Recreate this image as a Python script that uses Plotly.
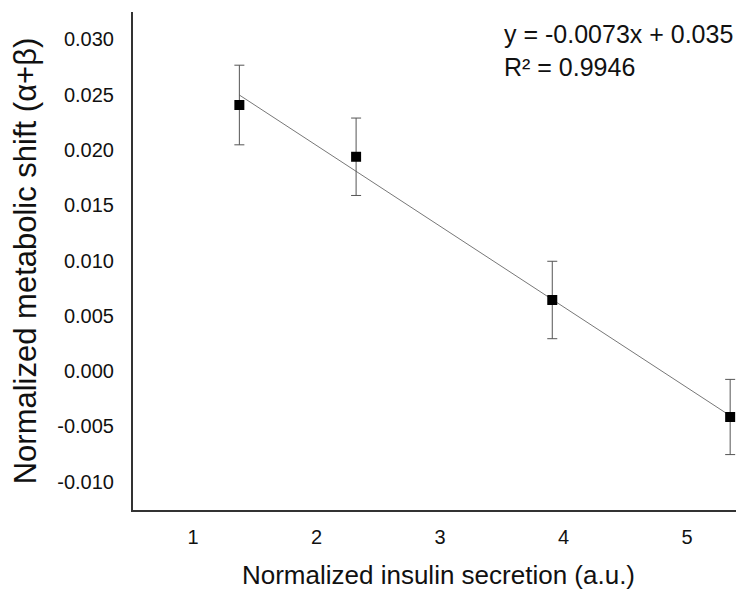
import numpy as np
import plotly.graph_objects as go

# valores
insulin = [1.375, 2.32, 3.908, 5.348]
shift = [0.02406, 0.01938, 0.00643, -0.00415]
shift_err = [0.0036, 0.0035, 0.0035, 0.0034]

slope = -0.0073
intercept = 0.035
r2 = 0.9946

x_ticks = [1, 2, 3, 4, 5]
y_ticks = [-0.010, -0.005, 0.000, 0.005, 0.010, 0.015, 0.020, 0.025, 0.030]
y_ticktext = [f"{v:.3f}" for v in y_ticks]

font = "Liberation Sans, Arial, sans-serif"

fig = go.Figure()

# recta de tendencia
xl = np.array([min(insulin), max(insulin)])
fig.add_trace(go.Scatter(
    x=xl, y=slope * xl + intercept, mode="lines",
    line=dict(color="#777777", width=1), hoverinfo="skip", showlegend=False
))

# puntos con barras de error
fig.add_trace(go.Scatter(
    x=insulin, y=shift, mode="markers",
    marker=dict(symbol="square", size=10, color="black"),
    error_y=dict(type="data", array=shift_err, visible=True,
                 color="#555555", thickness=1, width=5),
    showlegend=False
))

fig.add_annotation(
    xref="paper", yref="paper", x=0.604, y=1, xanchor="left", yanchor="top",
    yshift=-6, align="left", showarrow=False,
    text=f"y = {slope}x + {intercept}<br>R² = {r2}",
    font=dict(family=font, size=25, color="#111111")
)

# la pagina deja 8px de margen en el body
fig.update_layout(
    template="none",
    width=736, height=582,
    margin=dict(l=125, r=0, t=4, b=80),
    plot_bgcolor="white", paper_bgcolor="white",
    font=dict(family=font, color="#111111"),
    xaxis=dict(
        range=[0.514, 5.46], tickvals=x_ticks, showgrid=False, zeroline=False,
        showline=True, linecolor="#333333", linewidth=2, ticks="",
        tickfont=dict(size=20), ticklabelstandoff=8, automargin=False,
        title=dict(text="Normalized insulin secretion (a.u.)",
                   font=dict(size=26), standoff=24),
    ),
    yaxis=dict(
        range=[-0.01256, 0.03247], tickvals=y_ticks, ticktext=y_ticktext,
        showgrid=False, zeroline=False,
        showline=True, linecolor="#333333", linewidth=2, ticks="",
        tickfont=dict(size=20), ticklabelstandoff=13, automargin=False,
        title=dict(text="Normalized metabolic shift (α+β)",
                   font=dict(size=31), standoff=18),
    ),
)

fig.write_html("out.html")
